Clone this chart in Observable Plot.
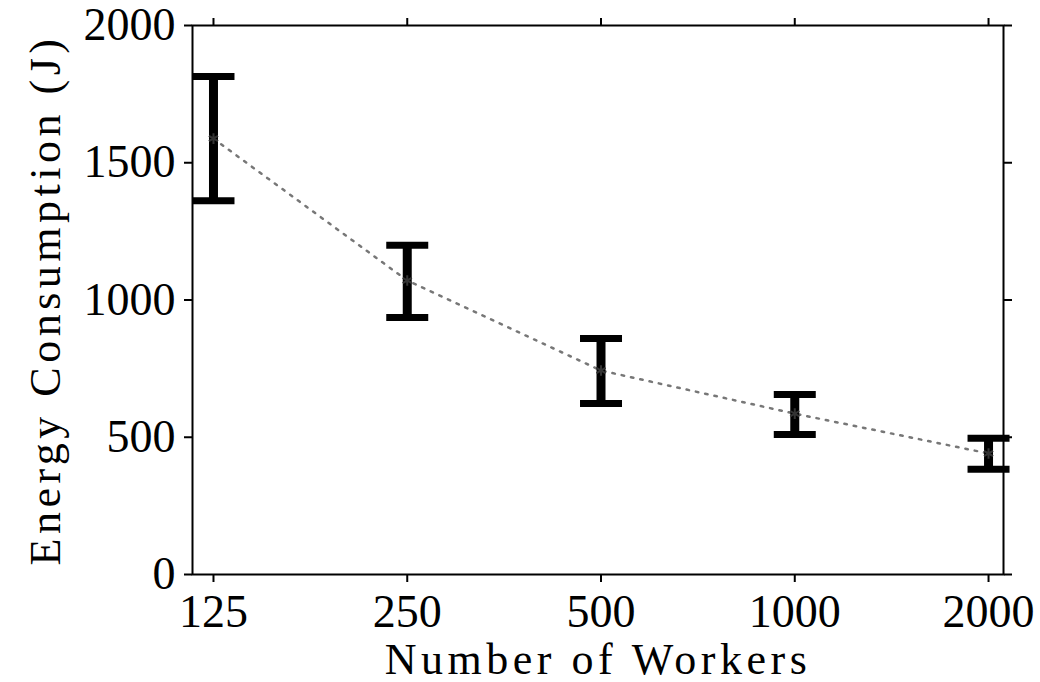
<!DOCTYPE html>
<html><head><meta charset="utf-8">
<script src="https://cdn.jsdelivr.net/npm/d3@7"></script>
<script src="https://cdn.jsdelivr.net/npm/@observablehq/plot@0.6"></script>
<style>body{margin:0;background:#fff}</style>
</head><body><div id="chart"></div>
<script>
const workers = [125, 250, 500, 1000, 2000];
const energyMean = [1588, 1071, 743, 586, 441];
const energyLow = [1362, 936, 623, 510, 383];
const energyHigh = [1814, 1199, 860, 656, 496];
const xTicks = [125, 250, 500, 1000, 2000];
const yTicks = [0, 500, 1000, 1500, 2000];
const xLabel = "Number of Workers";
const yLabel = "Energy Consumption (J)";

const data = workers.map((n, i) => ({n, mean: energyMean[i], low: energyLow[i], high: energyHigh[i]}));
const capSymbol = {draw(ctx) { ctx.moveTo(-21, 0); ctx.lineTo(21, 0); }};
const font = "Liberation Serif";

const chart = Plot.plot({
  width: 1040,
  height: 682,
  marginLeft: 192,
  marginRight: 37,
  marginTop: 25,
  marginBottom: 108,
  style: {fontFamily: font, background: "#fff", color: "#000"},
  x: {type: "log", domain: [115.96, 2110]},
  y: {domain: [0, 2000]},
  marks: [
    Plot.axisX({anchor: "bottom", ticks: xTicks, tickFormat: d => String(d), tickSize: 8, tickPadding: 12, fontSize: 46, strokeWidth: 2, label: null}),
    Plot.axisX({anchor: "top", ticks: xTicks, tickFormat: () => "", tickSize: 8, strokeWidth: 2, label: null}),
    Plot.axisY({anchor: "left", ticks: yTicks, tickFormat: d => String(d), tickSize: 8, tickPadding: 9, fontSize: 46, strokeWidth: 2, label: null}),
    Plot.axisY({anchor: "right", ticks: yTicks, tickFormat: () => "", tickSize: 8, strokeWidth: 2, label: null}),
    Plot.frame({stroke: "#000", strokeWidth: 2}),
    Plot.line(data, {x: "n", y: "mean", stroke: "#777", strokeWidth: 2.5, strokeDasharray: "2.5,7"}),
    Plot.ruleX(data, {x: "n", y1: "low", y2: "high", stroke: "#000", strokeWidth: 9}),
    Plot.dot(data, {x: "n", y: "low", symbol: capSymbol, r: 5, fill: "none", stroke: "#000", strokeWidth: 7}),
    Plot.dot(data, {x: "n", y: "high", symbol: capSymbol, r: 5, fill: "none", stroke: "#000", strokeWidth: 7}),
    Plot.dot(data, {x: "n", y: "mean", symbol: "asterisk", r: 5, stroke: "#333", strokeWidth: 2}),
    Plot.text([xLabel], {frameAnchor: "bottom", textAnchor: "middle", lineAnchor: "bottom", dy: 99, fontSize: 44, fill: "#000"}),
    Plot.text([yLabel], {frameAnchor: "left", textAnchor: "middle", lineAnchor: "middle", rotate: -90, dx: -147, fontSize: 44, fill: "#000"})
  ]
});
chart.querySelectorAll("text").forEach(t => {
  if (t.textContent === xLabel || t.textContent === yLabel) t.setAttribute("letter-spacing", "4.5");
});
document.getElementById("chart").appendChild(chart);
</script>
</body></html>
